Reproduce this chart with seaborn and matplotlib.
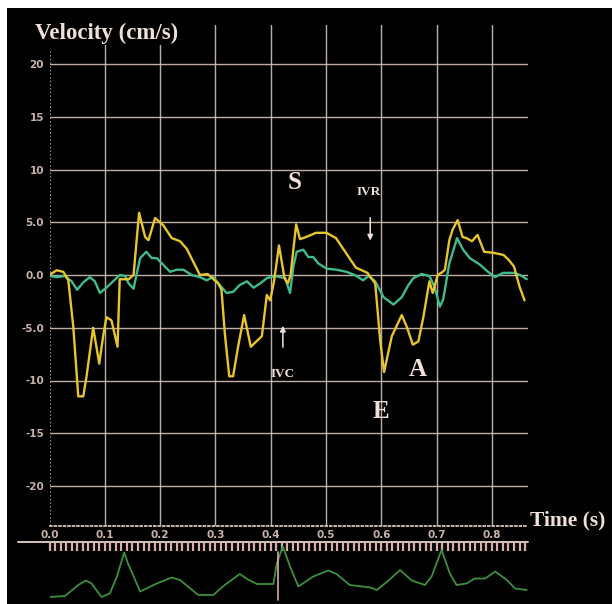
import numpy as np
import pandas as pd
import matplotlib
matplotlib.use("Agg")
import matplotlib.pyplot as plt
from matplotlib.lines import Line2D
from matplotlib.ticker import MultipleLocator
import seaborn as sns

# ---------------- data ----------------
yellow_t = [0.000, 0.013, 0.025, 0.034, 0.043, 0.052, 0.061, 0.067, 0.079, 0.090,
            0.097, 0.103, 0.112, 0.123, 0.127, 0.143, 0.152, 0.162, 0.173, 0.179,
            0.191, 0.206, 0.221, 0.236, 0.248, 0.272, 0.286, 0.305, 0.311, 0.317,
            0.325, 0.332, 0.341, 0.352, 0.364, 0.384, 0.393, 0.399, 0.406, 0.415,
            0.425, 0.431, 0.436, 0.446, 0.453, 0.464, 0.482, 0.501, 0.518, 0.536,
            0.554, 0.575, 0.589, 0.598, 0.605, 0.619, 0.637, 0.646, 0.657, 0.667,
            0.676, 0.687, 0.693, 0.702, 0.711, 0.715, 0.723, 0.729, 0.738, 0.747,
            0.754, 0.764, 0.774, 0.786, 0.803, 0.821, 0.831, 0.840, 0.850, 0.859]
yellow_v = [0.0, 0.45, 0.3, -0.5, -4.9, -11.5, -11.5, -9.6, -5.0, -8.4,
            -5.8, -4.0, -4.3, -6.8, -0.4, -0.4, 0.0, 5.9, 3.6, 3.3,
            5.4, 4.7, 3.5, 3.2, 2.5, 0.0, 0.1, -0.8, -1.4, -5.5,
            -9.6, -9.6, -6.8, -3.8, -6.8, -5.8, -1.9, -2.4, -0.6, 2.8,
            -0.3, -0.8, 0.0, 4.8, 3.4, 3.6, 4.0, 4.0, 3.5, 2.1,
            0.7, 0.2, -0.8, -6.2, -9.2, -5.8, -3.8, -4.9, -6.6, -6.3,
            -4.0, -0.6, -1.7, 0.0, 0.3, 0.5, 3.3, 4.3, 5.2, 3.6,
            3.5, 3.2, 3.8, 2.2, 2.1, 1.9, 1.4, 0.8, -1.1, -2.4]

green_t = [0.000, 0.013, 0.028, 0.040, 0.050, 0.061, 0.073, 0.082, 0.091, 0.103,
           0.117, 0.127, 0.137, 0.143, 0.152, 0.158, 0.164, 0.175, 0.185, 0.194,
           0.206, 0.218, 0.230, 0.242, 0.257, 0.272, 0.284, 0.296, 0.308, 0.320,
           0.332, 0.344, 0.357, 0.369, 0.381, 0.393, 0.408, 0.417, 0.426, 0.435,
           0.441, 0.447, 0.459, 0.468, 0.477, 0.486, 0.501, 0.519, 0.537, 0.552,
           0.567, 0.577, 0.589, 0.604, 0.622, 0.637, 0.649, 0.658, 0.673, 0.687,
           0.696, 0.706, 0.712, 0.723, 0.737, 0.748, 0.760, 0.778, 0.793, 0.806,
           0.820, 0.840, 0.851, 0.863]
green_v = [-0.1, -0.2, -0.1, -0.6, -1.4, -0.7, -0.2, -0.6, -1.7, -1.2,
           -0.5, 0.0, -0.1, -0.8, -1.3, 0.2, 1.6, 2.2, 1.6, 1.6,
           0.95, 0.3, 0.5, 0.5, 0.0, -0.2, -0.5, -0.2, -0.95, -1.7,
           -1.6, -0.95, -0.6, -1.2, -0.8, -0.3, -0.1, -0.2, -0.3, -1.7,
           0.8, 2.2, 2.4, 1.7, 1.7, 1.1, 0.6, 0.5, 0.3, 0.0,
           -0.5, -0.1, -0.6, -2.1, -2.8, -2.1, -0.95, -0.3, 0.1, -0.1,
           -1.1, -3.0, -2.3, 1.1, 3.5, 2.4, 1.6, 1.0, 0.3, -0.2,
           0.2, 0.2, 0.0, -0.4]

ecg_t = [0.000, 0.028, 0.052, 0.066, 0.076, 0.094, 0.109, 0.122, 0.135, 0.142,
         0.164, 0.194, 0.221, 0.236, 0.269, 0.296, 0.317, 0.344, 0.359, 0.375,
         0.405, 0.411, 0.422, 0.435, 0.450, 0.477, 0.504, 0.519, 0.543, 0.580,
         0.592, 0.613, 0.634, 0.655, 0.679, 0.691, 0.709, 0.724, 0.736, 0.754,
         0.769, 0.788, 0.806, 0.827, 0.842, 0.863]
ecg_v = [0.00, 0.02, 0.24, 0.33, 0.27, 0.00, 0.07, 0.41, 0.89, 0.67,
         0.11, 0.27, 0.39, 0.34, 0.04, 0.04, 0.24, 0.46, 0.35, 0.26,
         0.26, 0.67, 1.01, 0.61, 0.21, 0.41, 0.53, 0.46, 0.24, 0.19,
         0.14, 0.33, 0.54, 0.33, 0.24, 0.41, 0.94, 0.47, 0.24, 0.27,
         0.37, 0.37, 0.51, 0.34, 0.17, 0.14]

y_ticks = [-20, -15, -10, -5, 0, 5, 10, 15, 20]
y_ticklabels = ["-20", "-15", "-10", "-5.0", "0.0", "5.0", "10", "15", "20"]
x_ticks = [0.0, 0.1, 0.2, 0.3, 0.4, 0.5, 0.6, 0.7, 0.8]
x_ticklabels = ["0.0", "0.1", "0.2", "0.3", "0.4", "0.5", "0.6", "0.7", "0.8"]

# annotations: (text, t, v, size)
labels = [("S", 0.444, 8.8, 18), ("E", 0.600, -12.9, 18), ("A", 0.666, -9.0, 18),
          ("IVR", 0.578, 7.9, 9.5), ("IVC", 0.422, -9.4, 9.5)]
ivr_arrow = (0.580, 5.7, 3.0)
ivc_arrow = (0.422, -7.1, -4.55)
ecg_marker_t = 0.413

# ---------------- styling ----------------
W, H = 612, 604
BG = "#000000"
GRID = "#d6c3ba"
TXT = "#f0e0da"
TICK = "#c8b4aa"
YEL = "#e8c52c"
GRN = "#3fbb8c"
ECG = "#3a903c"

sns.set_style("dark")
plt.rcParams["font.family"] = ["DejaVu Sans"]

fig = plt.figure(figsize=(W / 100, H / 100), dpi=100, facecolor="white")

bg = fig.add_axes([7 / W, 0, 1 - 7 / W, (H - 8) / H])
bg.set_facecolor(BG)
bg.set_xticks([]); bg.set_yticks([])
for s in bg.spines.values():
    s.set_visible(False)
bg.set_zorder(-10)

x0, x1 = 49.5, 527.7
y_top, y_bot = 25, 526
ax = fig.add_axes([x0 / W, (H - y_bot) / H, (x1 - x0) / W, (y_bot - y_top) / H])
ax.set_facecolor("none")
ax.set_xlim(0, (x1 - x0) / 553)
ax.set_ylim((275 - y_bot) / 10.55, (275 - y_top) / 10.55)

ax.grid(False)
for yt in y_ticks:
    ax.axhline(yt, color=GRID, lw=1.0, alpha=0.9, zorder=1)
for xt in x_ticks[1:]:
    ax.axvline(xt, color=GRID, lw=1.0, alpha=0.9, zorder=1)

ylo, yhi = ax.get_ylim()
ax.axvline(0, ymin=0, ymax=(21.3 - ylo) / (yhi - ylo), color="#c89a88",
           lw=1.2, ls=(0, (1, 1.2)), zorder=1)

for s in ["top", "right", "left"]:
    ax.spines[s].set_visible(False)
ax.spines["bottom"].set_color(GRID)
ax.spines["bottom"].set_linestyle((0, (1, 1.5)))
ax.spines["bottom"].set_linewidth(1.3)

ax.set_yticks(y_ticks)
ax.set_yticklabels(y_ticklabels)
ax.set_xticks(x_ticks)
ax.set_xticklabels(x_ticklabels)
ax.yaxis.set_minor_locator(MultipleLocator(1))
ax.tick_params(axis="y", which="major", length=0, pad=4, labelcolor=TICK, labelsize=7.5)
ax.tick_params(axis="y", which="minor", length=2, width=1, color="#b88878", direction="out")
ax.tick_params(axis="x", which="major", length=0, pad=3, labelcolor=TICK, labelsize=7.5)
for lab in ax.get_xticklabels() + ax.get_yticklabels():
    lab.set_fontweight("bold")

dfy = pd.DataFrame({"t": yellow_t, "v": yellow_v})
dfg = pd.DataFrame({"t": green_t, "v": green_v})
sns.lineplot(data=dfg, x="t", y="v", ax=ax, color=GRN, lw=1.7, sort=False,
             estimator=None, zorder=3)
sns.lineplot(data=dfy, x="t", y="v", ax=ax, color=YEL, lw=1.7, sort=False,
             estimator=None, zorder=4)
ax.set_xlabel(""); ax.set_ylabel("")

for txt, t, v, sz in labels:
    ax.text(t, v, txt, color=TXT, fontsize=sz, fontweight="bold",
            family="Liberation Serif", ha="center", va="center", zorder=5)

ax.annotate("", xy=(ivr_arrow[0], ivr_arrow[2]), xytext=(ivr_arrow[0], ivr_arrow[1]),
            arrowprops=dict(arrowstyle="-|>", color=TXT, lw=1.1, mutation_scale=8))
ax.annotate("", xy=(ivc_arrow[0], ivc_arrow[2]), xytext=(ivc_arrow[0], ivc_arrow[1]),
            arrowprops=dict(arrowstyle="-|>", color=TXT, lw=1.1, mutation_scale=8))

fig.text(35 / W, 1 - 33 / H, "Velocity (cm/s)", color=TXT, fontsize=16.5,
         fontweight="bold", family="Liberation Serif", ha="left", va="center",
         bbox=dict(facecolor=BG, edgecolor="none", pad=1), zorder=10)
fig.text(530 / W, 1 - 520 / H, "Time (s)", color=TXT, fontsize=15.5,
         fontweight="bold", family="Liberation Serif", ha="left", va="center")

# ---------------- ECG strip ----------------
e_top = 543
axe = fig.add_axes([x0 / W, 0, (x1 - x0) / W, (H - e_top) / H])
axe.set_facecolor("none")
axe.set_xlim(ax.get_xlim())
axe.set_ylim((597 - H) / 50, (597 - e_top) / 50)
axe.grid(False)
for s in ["bottom", "left", "right", "top"]:
    axe.spines[s].set_visible(False)
axe.xaxis.tick_top()
axe.xaxis.set_major_locator(MultipleLocator(0.01))
axe.tick_params(axis="x", which="major", direction="in", length=5.5, width=1.6,
                color="#d8b0a4", labeltop=False, labelbottom=False, top=True, bottom=False)
axe.set_yticks([])
dfe = pd.DataFrame({"t": ecg_t, "v": ecg_v})
sns.lineplot(data=dfe, x="t", y="v", ax=axe, color=ECG, lw=1.3, sort=False,
             estimator=None)
axe.set_xlabel(""); axe.set_ylabel("")
axe.axvline(ecg_marker_t, ymin=(H - 600) / (H - e_top), ymax=(H - 552) / (H - e_top),
            color="#d8aca0", lw=1.2)
fig.add_artist(Line2D([18 / W, x1 / W], [(H - 542) / H, (H - 542) / H],
                      transform=fig.transFigure, color="#d8c4bc", lw=1.4))

fig.savefig("out.png", dpi=100, facecolor=fig.get_facecolor())
